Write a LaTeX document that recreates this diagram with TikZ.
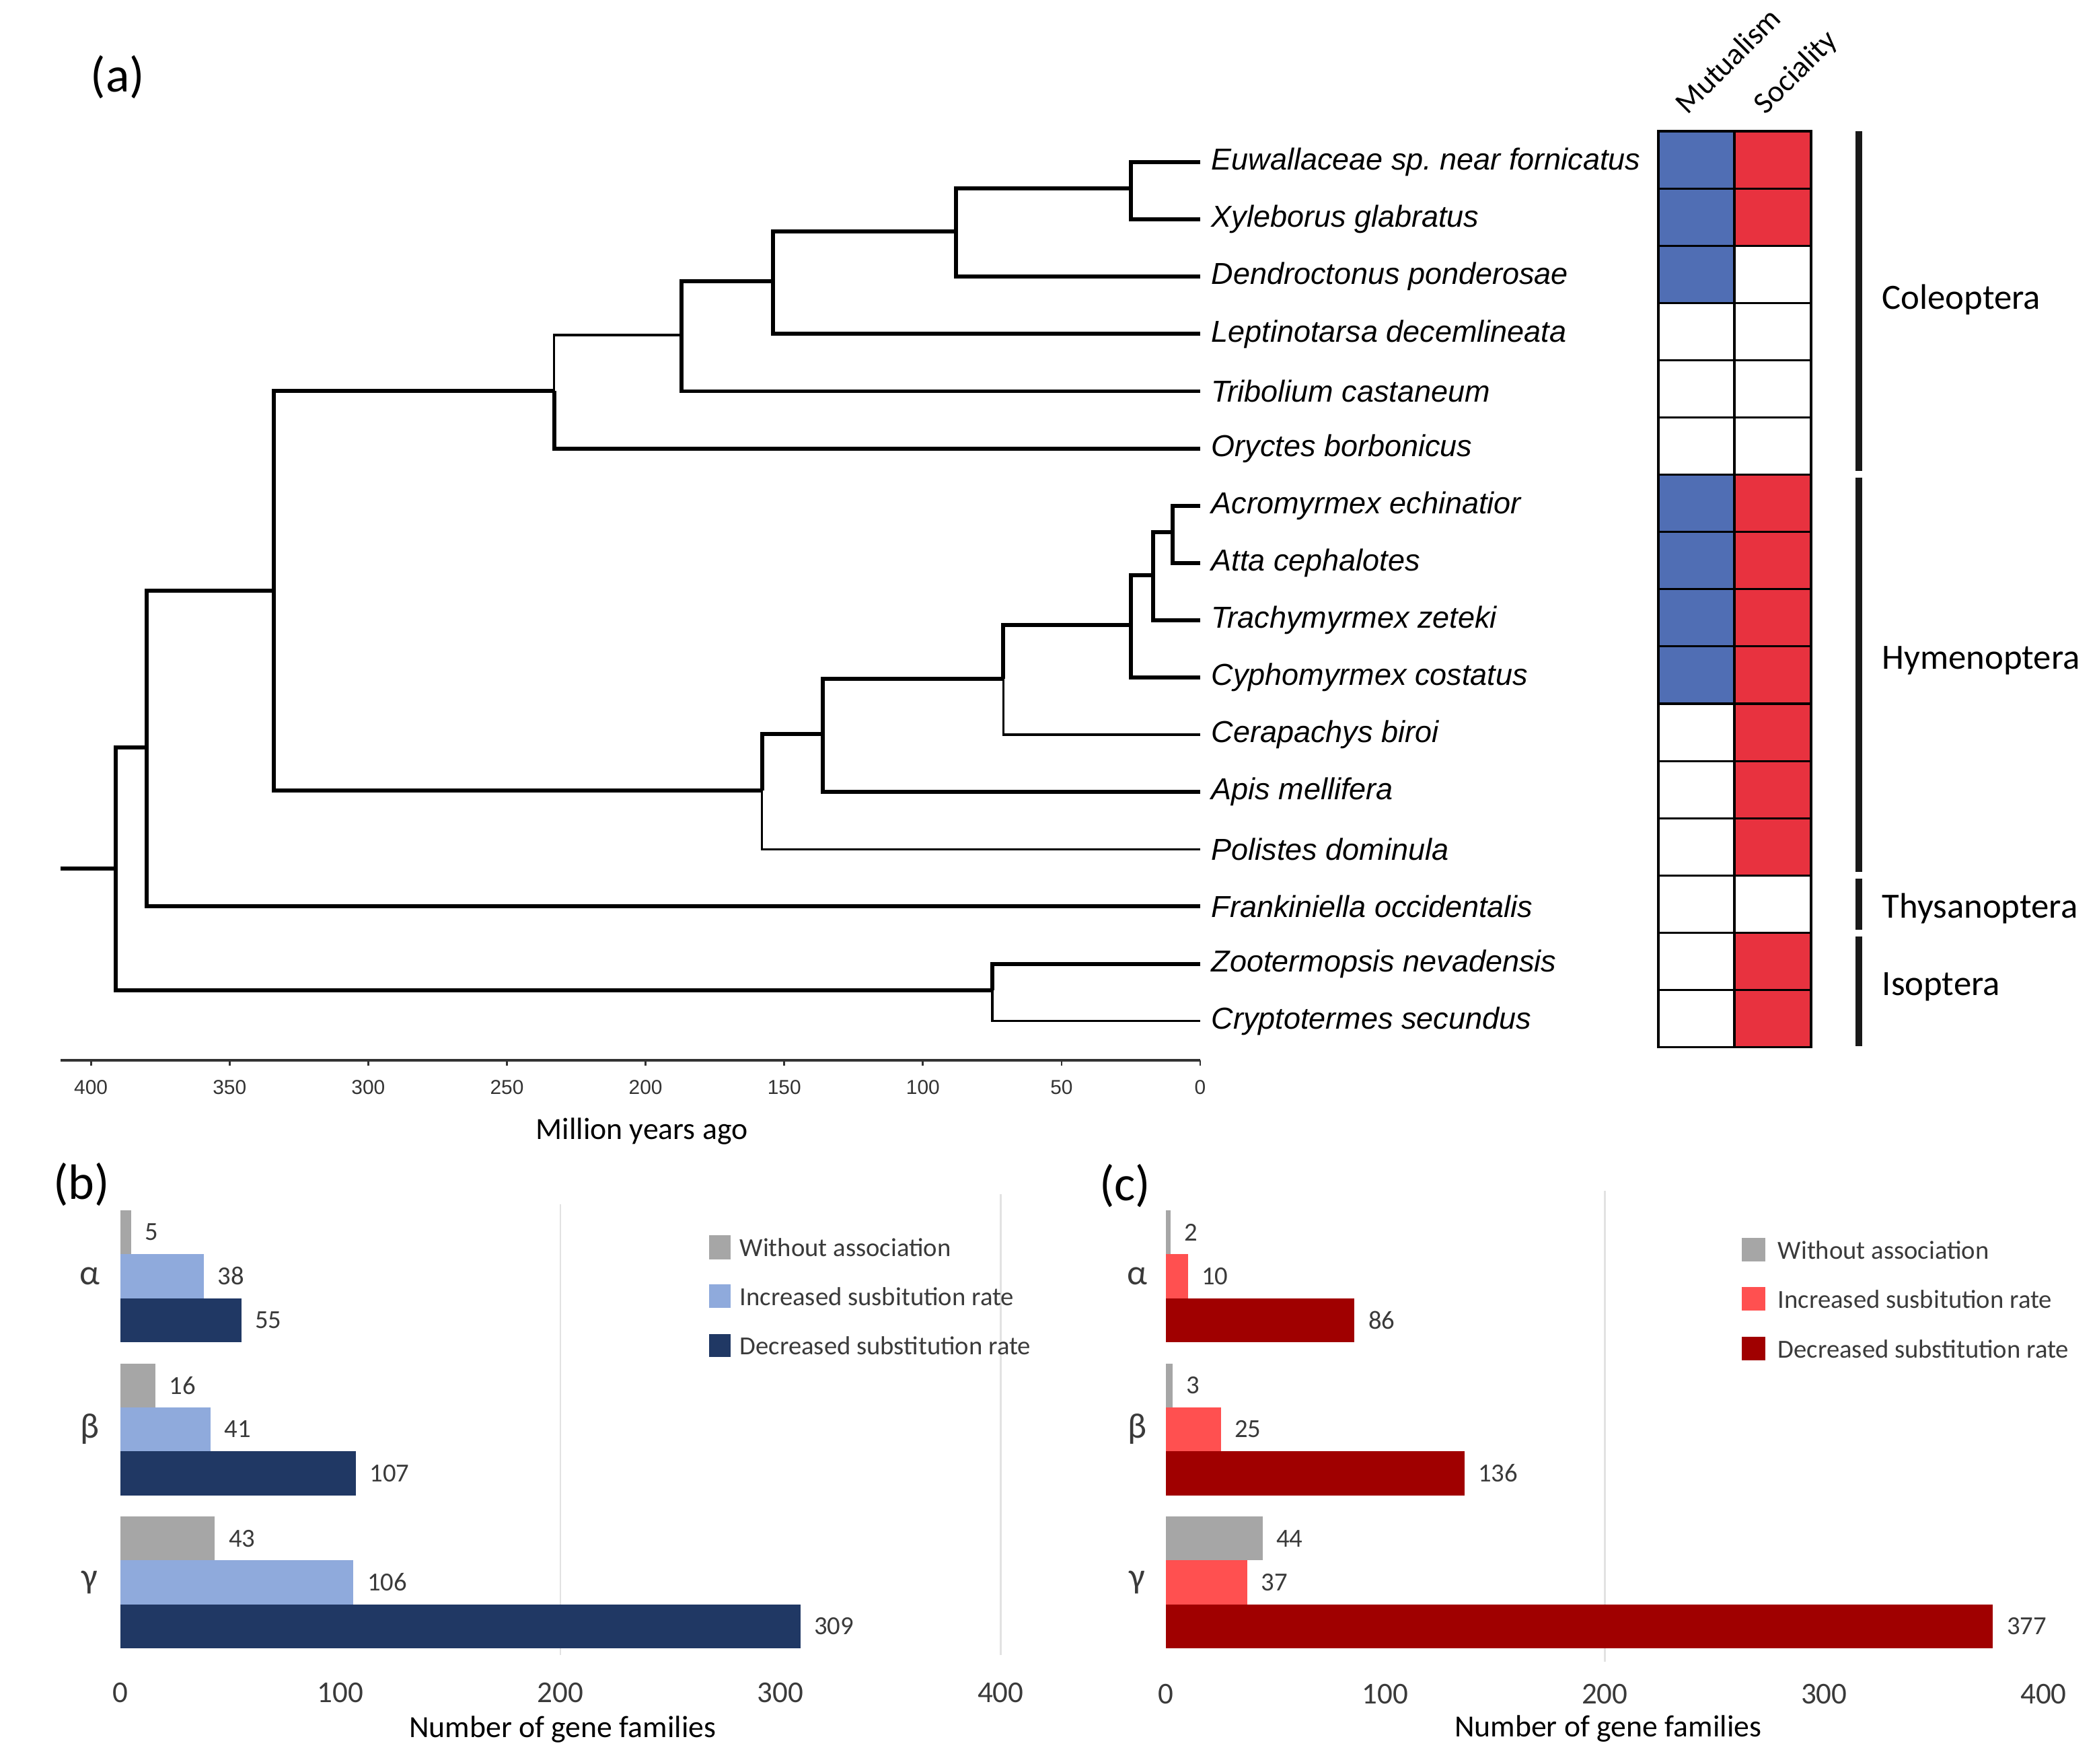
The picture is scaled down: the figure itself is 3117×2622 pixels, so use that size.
\documentclass[tikz,border=0pt]{standalone}
\usepackage{fontspec}
\setmainfont{Carlito}
\newfontfamily\spfont{Liberation Sans}
\usepackage{tikz}
\usetikzlibrary{calc}

\definecolor{mutblue}{HTML}{506EB4}
\definecolor{socred}{HTML}{E8323F}
\definecolor{barg}{HTML}{A6A6A6}
\definecolor{lblue}{HTML}{8FAADC}
\definecolor{navy}{HTML}{203864}
\definecolor{lred}{HTML}{FF5050}
\definecolor{dred}{HTML}{A00000}
\definecolor{gridc}{HTML}{E2E2E2}
\definecolor{txt}{HTML}{3A3A3A}
\definecolor{axc}{HTML}{333333}

\begin{document}
\begin{tikzpicture}[x=0.01cm, y=-0.01cm,
  thk/.style={line width=1.7pt},
  thn/.style={line width=1.0pt},
  sp/.style={anchor=west, inner xsep=4.5pt, inner ysep=0pt, yshift=-1pt, font=\spfont\itshape\fontsize{12.8}{15}\selectfont},
  tick/.style={inner sep=0pt, font=\spfont\fontsize{8.5}{10}\selectfont, text=axc},
  cell/.style={draw=black, line width=0.9pt},
  hdr/.style={rotate=45, anchor=base west, inner sep=0pt, font=\fontsize{13}{15}\selectfont},
  grp/.style={line width=3pt, draw=black!90},
  grplab/.style={anchor=west, inner sep=0pt, font=\fontsize{15}{18}\selectfont},
  plab/.style={inner sep=0pt, font=\fontsize{21}{24}\selectfont},
  axt/.style={inner sep=0pt, font=\fontsize{13}{15}\selectfont},
  axn/.style={inner sep=0pt, font=\fontsize{12.8}{15}\selectfont, text=txt},
  val/.style={anchor=west, xshift=0.2cm, inner sep=0pt, font=\fontsize{11}{13}\selectfont, text=txt},
  grk/.style={inner sep=0pt, font=\fontsize{15}{18}\selectfont, text=txt},
  leg/.style={anchor=west, inner sep=0pt, font=\fontsize{11}{13}\selectfont, text=txt}]
\fill[white] (0,0) rectangle (3117,2622);
\useasboundingbox (0,0) rectangle (3117,2622);

\node[plab] (pa) at (175,115) {(a)};

% tree, x in million years ago
\begin{scope}[xshift=17.83cm, x=-0.0412cm]
\node[sp] (euw) at (0,237.6) {Euwallaceae sp.\ near fornicatus};
\node[sp] (xyl) at (0,322.7) {Xyleborus glabratus};
\node[sp] (den) at (0,407.8) {Dendroctonus ponderosae};
\node[sp] (lep) at (0,492.9) {Leptinotarsa decemlineata};
\node[sp] (tri) at (0,578.0) {Tribolium castaneum};
\node[sp] (ory) at (0,663.1) {Oryctes borbonicus};
\node[sp] (acr) at (0,748.2) {Acromyrmex echinatior};
\node[sp] (att) at (0,833.3) {Atta cephalotes};
\node[sp] (tra) at (0,918.4) {Trachymyrmex zeteki};
\node[sp] (cyp) at (0,1003.5) {Cyphomyrmex costatus};
\node[sp] (cer) at (0,1088.6) {Cerapachys biroi};
\node[sp] (api) at (0,1173.7) {Apis mellifera};
\node[sp] (pol) at (0,1258.8) {Polistes dominula};
\node[sp] (fra) at (0,1343.9) {Frankiniella occidentalis};
\node[sp] (zoo) at (0,1429.0) {Zootermopsis nevadensis};
\node[sp] (cry) at (0,1514.1) {Cryptotermes secundus};

\coordinate (n-ex) at (25,280.15);
\coordinate (n-den) at (88,343.98);
\coordinate (n-lep) at (154,418.44);
\coordinate (n-tri) at (187,498.22);
\coordinate (n-col) at (233,580.66);
\coordinate (n-aa) at (10,790.75);
\coordinate (n-tz) at (17,854.6);
\coordinate (n-cy) at (25,929.0);
\coordinate (n-ce) at (71,1008.8);
\coordinate (n-ap) at (136,1091.25);
\coordinate (n-hym) at (158,1175.0);
\coordinate (n-ch) at (334,877.8);
\coordinate (n-fr) at (380,1110.9);
\coordinate (n-iso) at (75,1471.55);
\coordinate (n-root) at (391,1291.2);
\coordinate (n-base) at (411,1291.2);

\draw[thk] (n-base) -- (n-root);
\draw[thk] (n-root) |- (n-fr);
\draw[thk] (n-root) |- (n-iso);
\draw[thk] (n-fr) |- (n-ch);
\draw[thk] (n-fr) |- (fra.west);
\draw[thk] (n-ch) |- (n-col);
\draw[thk] (n-ch) |- (n-hym);
\draw[thn] (n-col) |- (n-tri);
\draw[thk] (n-col) |- (ory.west);
\draw[thk] (n-tri) |- (n-lep);
\draw[thk] (n-tri) |- (tri.west);
\draw[thk] (n-lep) |- (n-den);
\draw[thk] (n-lep) |- (lep.west);
\draw[thk] (n-den) |- (n-ex);
\draw[thk] (n-den) |- (den.west);
\draw[thk] (n-ex) |- (euw.west);
\draw[thk] (n-ex) |- (xyl.west);
\draw[thk] (n-hym) |- (n-ap);
\draw[thn] (n-hym) |- (pol.west);
\draw[thk] (n-ap) |- (n-ce);
\draw[thk] (n-ap) |- (api.west);
\draw[thk] (n-ce) |- (n-cy);
\draw[thn] (n-ce) |- (cer.west);
\draw[thk] (n-cy) |- (n-tz);
\draw[thk] (n-cy) |- (cyp.west);
\draw[thk] (n-tz) |- (n-aa);
\draw[thk] (n-tz) |- (tra.west);
\draw[thk] (n-aa) |- (acr.west);
\draw[thk] (n-aa) |- (att.west);
\draw[thk] (n-iso) |- (zoo.west);
\draw[thn] (n-iso) |- (cry.west);

% time axis
\draw[line width=1.3pt, axc] (411,1576) -- (0,1576);
\foreach \t in {0,50,...,400} {
  \draw[line width=0.8pt, axc] (\t,1576) -- (\t,1584);
  \node[tick] (tk\t) at (\t,1616) {\t};
}
\end{scope}
\node[axt] (mya) at (954,1682) {Million years ago};

% traits
\node[hdr] (mut) at (2508,172) {Mutualism};
\node[hdr] (soc) at (2624,172) {Sociality};
\foreach \m/\s [count=\r] in {1/1,1/1,1/0,0/0,0/0,0/0,1/1,1/1,1/1,1/1,0/1,0/1,0/1,0/0,0/1,0/1} {
  \pgfmathsetmacro\ty{195+85.1*(\r-1)}
  \ifnum\m=1 \def\mcol{mutblue}\else\def\mcol{white}\fi
  \ifnum\s=1 \def\scol{socred}\else\def\scol{white}\fi
  \filldraw[cell, fill=\mcol] (2465,\ty) rectangle (2578,\ty+85.1);
  \filldraw[cell, fill=\scol] (2578,\ty) rectangle (2692,\ty+85.1);
}

% orders
\draw[grp] (2763,195) -- (2763,700);
\draw[grp] (2763,710) -- (2763,1296);
\draw[grp] (2763,1306) -- (2763,1382);
\draw[grp] (2763,1392) -- (2763,1555);
\node[grplab] (col) at (2797,445) {Coleoptera};
\node[grplab] (hym) at (2797,982) {Hymenoptera};
\node[grplab] (thy) at (2797,1350) {Thysanoptera};
\node[grplab] (iso) at (2797,1467) {Isoptera};

% (b) mutualism
\node[plab] (pb) at (121,1761) {(b)};
\begin{scope}[xshift=1.785cm, x=0.0327cm]
\draw[gridc, line width=0.8pt] (200,1790) -- (200,2460);
\draw[gridc, line width=0.8pt] (400,1775) -- (400,2460);
\foreach \g/\a/\b/\c [count=\i from 0] in {α/5/38/55, β/16/41/107, γ/43/106/309} {
  \pgfmathsetmacro\ty{1799+227.5*\i}
  \fill[barg] (0,\ty) rectangle (\a,\ty+65.3);
  \fill[lblue] (0,\ty+65.3) rectangle (\b,\ty+130.6);
  \fill[navy] (0,\ty+130.6) rectangle (\c,\ty+196);
  \node[val] (b-a\i) at (\a,\ty+32.6) {\a};
  \node[val] (b-b\i) at (\b,\ty+97.9) {\b};
  \node[val] (b-c\i) at (\c,\ty+163.3) {\c};
  \node[grk] (b-g\i) at (-13.9,\ty+97.9) {\g};
}
\foreach \v in {0,100,...,400}
  \node[axn] (b-t\v) at (\v,2516) {\v};
\node[axt] (b-x) at (201,2571) {Number of gene families};
\end{scope}
\fill[barg] (1054,1836) rectangle (1086,1872);
\fill[lblue] (1054,1909) rectangle (1086,1944);
\fill[navy] (1054,1983) rectangle (1086,2017);
\node[leg] (b-l1) at (1099,1854) {Without association};
\node[leg] (b-l2) at (1099,1927) {Increased susbitution rate};
\node[leg] (b-l3) at (1099,2000) {Decreased substitution rate};

% (c) sociality
\node[plab] (pc) at (1672,1763) {(c)};
\begin{scope}[xshift=17.32cm, x=0.0326cm]
\draw[gridc, line width=0.8pt] (200,1770) -- (200,2470);
\foreach \g/\a/\b/\c [count=\i from 0] in {α/2/10/86, β/3/25/136, γ/44/37/377} {
  \pgfmathsetmacro\ty{1799+227.5*\i}
  \fill[barg] (0,\ty) rectangle (\a,\ty+65.3);
  \fill[lred] (0,\ty+65.3) rectangle (\b,\ty+130.6);
  \fill[dred] (0,\ty+130.6) rectangle (\c,\ty+196);
  \node[val] (c-a\i) at (\a,\ty+32.6) {\a};
  \node[val] (c-b\i) at (\b,\ty+97.9) {\b};
  \node[val] (c-c\i) at (\c,\ty+163.3) {\c};
  \node[grk] (c-g\i) at (-13,\ty+97.9) {\g};
}
\foreach \v in {0,100,...,400}
  \node[axn] (c-t\v) at (\v,2518) {\v};
\node[axt] (c-x) at (201.5,2570) {Number of gene families};
\end{scope}
\fill[barg] (2589,1840) rectangle (2624,1875);
\fill[lred] (2589,1913) rectangle (2624,1948);
\fill[dred] (2589,1987) rectangle (2624,2022);
\node[leg] (c-l1) at (2642,1858) {Without association};
\node[leg] (c-l2) at (2642,1931) {Increased susbitution rate};
\node[leg] (c-l3) at (2642,2005) {Decreased substitution rate};
\end{tikzpicture}
\end{document}
